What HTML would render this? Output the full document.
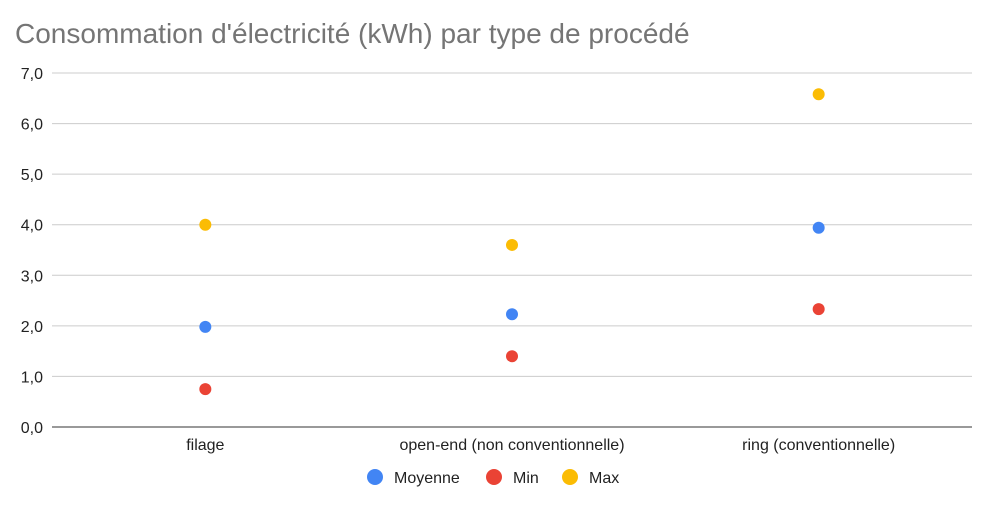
<!DOCTYPE html>
<html><head><meta charset="utf-8"><style>
body{margin:0;background:#fff;width:994px;height:505px;overflow:hidden;font-family:"Liberation Sans",Arial,sans-serif}
</style></head><body>
<svg id="chart" width="994" height="505" xmlns="http://www.w3.org/2000/svg">
<text x="15" y="43" font-size="28" fill="#757575">Consommation d'électricité (kWh) par type de procédé</text>
<g id="grid"></g><g id="marks"></g><g id="legend"></g>
</svg>
<script>
const categories=["filage","open-end (non conventionnelle)","ring (conventionnelle)"];
const moyenne=[1.98,2.23,3.94];
const minVals=[0.75,1.40,2.33];
const maxVals=[4.0,3.6,6.58];
const yTicks=[0,1,2,3,4,5,6,7];
const yTickLabels=["0,0","1,0","2,0","3,0","4,0","5,0","6,0","7,0"];
const seriesNames=["Moyenne","Min","Max"];
const NS="http://www.w3.org/2000/svg";
const x0=52,x1=972,yBase=427,yTop=73;
const y=v=>yBase-(v/7)*(yBase-yTop);
const x=i=>x0+(i+0.5)*(x1-x0)/categories.length;
function mk(t,a,p){const e=document.createElementNS(NS,t);for(const k in a)e.setAttribute(k,a[k]);p.appendChild(e);return e;}
const grid=document.getElementById('grid'),marks=document.getElementById('marks'),leg=document.getElementById('legend');
yTicks.forEach((v,i)=>{
 const l=mk('line',{x1:x0,x2:x1,y1:y(v),y2:y(v),stroke:v===0?'#333':'#ccc','stroke-width':1},grid);
 
 
 const t=mk('text',{x:43,y:y(v)+6,'text-anchor':'end','font-size':16,fill:'#222'},grid);
 t.textContent=yTickLabels[i];
 
 
});
categories.forEach((c,i)=>{
 const t=mk('text',{x:x(i),y:450,'text-anchor':'middle','font-size':16,fill:'#222'},grid);
 t.textContent=c;
 
 
});
const colors=["#4285f4","#ea4335","#fbbc04"];
[moyenne,minVals,maxVals].forEach((s,si)=>{
 s.forEach((v,i)=>{
  const c=mk('circle',{cx:x(i),cy:y(v),r:6,fill:colors[si]},marks);
  
  
 });
});
const lx=[375,494,570];
seriesNames.forEach((n,i)=>{
 const c=mk('circle',{cx:lx[i],cy:477,r:8,fill:colors[i]},leg);
 
 
 const t=mk('text',{x:lx[i]+19,y:483,'font-size':16,fill:'#222'},leg);
 t.textContent=n;
 
 
});
</script>
</body></html>
